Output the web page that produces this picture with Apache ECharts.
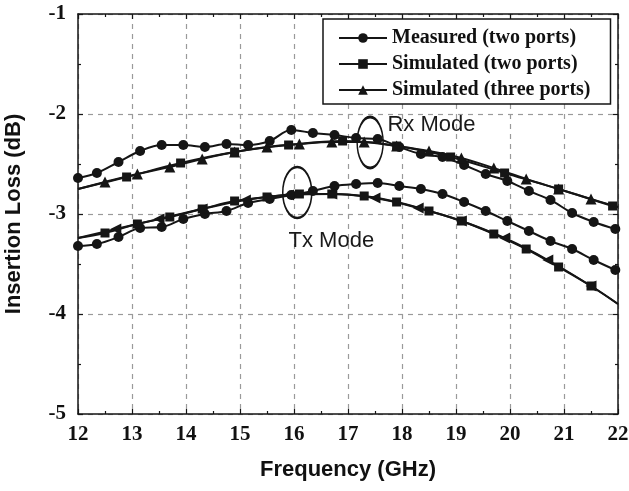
<!DOCTYPE html>
<html>
<head>
<meta charset="utf-8">
<script src="https://cdn.jsdelivr.net/npm/echarts@6/dist/echarts.min.js"></script>
<style>
    html, body { margin: 0; padding: 0; background: #fff; }
    #main { width: 629px; height: 491px; }
</style>
</head>
<body>
<div id="main"></div>
<script>
//图例名称
var legendNames = ['Measured (two ports)', 'Simulated (two ports)', 'Simulated (three ports)'];

//坐标轴刻度
var freqTicks = [12, 13, 14, 15, 16, 17, 18, 19, 20, 21, 22];
var lossTicks = [-5, -4, -3, -2, -1];

//实测 - 频点
var measFreq = [12.0, 12.35, 12.75, 13.15, 13.55, 13.95, 14.35, 14.75, 15.15, 15.55, 15.95, 16.35, 16.75,
    17.15, 17.55, 17.95, 18.35, 18.75, 19.15, 19.55, 19.95, 20.35, 20.75, 21.15, 21.55, 21.95];
//Rx 实测
var rxMeasLoss = [-2.64, -2.59, -2.48, -2.37, -2.31, -2.31, -2.33, -2.30, -2.31, -2.27, -2.16, -2.19, -2.21,
    -2.24, -2.25, -2.33, -2.40, -2.43, -2.51, -2.60, -2.67, -2.77, -2.86, -2.99, -3.08, -3.15];
//Tx 实测
var txMeasLoss = [-3.32, -3.30, -3.23, -3.14, -3.13, -3.05, -3.00, -2.97, -2.89, -2.85, -2.81, -2.77, -2.72,
    -2.70, -2.69, -2.72, -2.75, -2.80, -2.88, -2.97, -3.07, -3.17, -3.27, -3.35, -3.46, -3.56];

//Rx 仿真 (two ports)
var rxSim2Freq = [12, 12.9, 13.9, 14.9, 15.9, 16.9, 17.9, 18.9, 19.9, 20.9, 21.9, 22];
var rxSim2Loss = [-2.75, -2.63, -2.49, -2.38, -2.31, -2.27, -2.32, -2.43, -2.59, -2.75, -2.92, -2.93];
//Rx 仿真 (three ports)
var rxSim3Freq = [12, 12.5, 13.1, 13.7, 14.3, 14.9, 15.5, 16.1, 16.7, 17.3, 17.9, 18.5, 19.1, 19.7, 20.3, 20.9, 21.5, 22];
var rxSim3Loss = [-2.75, -2.68, -2.60, -2.53, -2.45, -2.38, -2.33, -2.30, -2.28, -2.28, -2.32, -2.37, -2.44, -2.54, -2.65, -2.75, -2.85, -2.93];

//Tx 仿真 (two ports)
var txSim2Freq = [12, 12.5, 13.1, 13.7, 14.3, 14.9, 15.5, 16.1, 16.7, 17.3, 17.9, 18.5, 19.1, 19.7, 20.3, 20.9, 21.5, 22];
var txSim2Loss = [-3.24, -3.19, -3.10, -3.03, -2.95, -2.87, -2.83, -2.80, -2.80, -2.82, -2.88, -2.97, -3.07, -3.20, -3.35, -3.53, -3.72, -3.90];
//Tx 仿真 (three ports)
var txSim3Freq = [12, 12.7, 13.5, 14.3, 15.1, 15.9, 16.7, 17.5, 18.3, 19.1, 19.9, 20.7, 21.5, 22];
var txSim3Loss = [-3.24, -3.15, -3.05, -2.95, -2.86, -2.81, -2.80, -2.84, -2.94, -3.07, -3.24, -3.46, -3.72, -3.90];

//标注 (椭圆 + 文字)
var rxMark = { ellipse: [17.41, -2.285], text: [17.72, -2.11], label: 'Rx Mode' };
var txMark = { ellipse: [16.06, -2.785], text: [15.89, -3.27], label: 'Tx Mode' };

var INK = '#151515';
var ellipsePath = 'path://M0,0A10,10,0,1,1,0,20A10,10,0,1,1,0,0Z';

//拼数据，bareEnds: 两端点不画标记
function build(freq, loss, bareEnds) {
    var out = [];
    for (var i = 0; i < freq.length; i++) {
        var item = { value: [freq[i], loss[i]] };
        if (bareEnds && (i === 0 || i === freq.length - 1)) item.symbol = 'none';
        out.push(item);
    }
    return out;
}

function lineSeries(name, data, symbol, size, rotate, smooth) {
    return {
        name: name,
        type: 'line',
        data: data,
        smooth: smooth,
        symbol: symbol,
        symbolSize: size,
        symbolRotate: rotate || 0,
        showAllSymbol: true,
        lineStyle: { color: INK, width: 2 },
        itemStyle: { color: INK, borderWidth: 0 },
        emphasis: { disabled: true },
        z: 3
    };
}

var serif = { fontFamily: 'Liberation Serif', fontWeight: 'bold', fontSize: 21, color: '#111' };
var nameFont = { fontFamily: 'Liberation Sans', fontWeight: 'bold', fontSize: 22, color: '#111' };
var axisLine = { show: true, lineStyle: { color: INK, width: 1.5 } };
var tick = { show: true, inside: true, length: 5, lineStyle: { color: INK, width: 1.2 } };
var minor = { show: true, splitNumber: 2, length: 3, lineStyle: { color: INK, width: 1.2 } };
var dashGrid = { show: true, lineStyle: { color: '#9a9a9a', width: 1.2, type: [5, 5] } };

var rxMeas = lineSeries(legendNames[0], build(measFreq, rxMeasLoss, false), 'circle', 10, 0, 0.35);
rxMeas.markPoint = {
    silent: true,
    animation: false,
    data: [
        { coord: rxMark.ellipse, symbol: ellipsePath, symbolSize: [26, 51],
          itemStyle: { color: 'transparent', borderColor: INK, borderWidth: 2 }, label: { show: false } },
        { coord: txMark.ellipse, symbol: ellipsePath, symbolSize: [29, 51],
          itemStyle: { color: 'transparent', borderColor: INK, borderWidth: 2 }, label: { show: false } },
        { coord: rxMark.text, symbol: 'circle', symbolSize: 1, itemStyle: { color: 'transparent' },
          label: { show: true, position: 'right', distance: 0, formatter: rxMark.label,
              fontFamily: 'Liberation Sans', fontSize: 22, color: '#1a1a1a' } },
        { coord: txMark.text, symbol: 'circle', symbolSize: 1, itemStyle: { color: 'transparent' },
          label: { show: true, position: 'right', distance: 0, formatter: txMark.label,
              fontFamily: 'Liberation Sans', fontSize: 22, color: '#1a1a1a' } }
    ]
};

var chart = echarts.init(document.getElementById('main'), null, { renderer: 'canvas' });
chart.setOption({
    animation: false,
    backgroundColor: '#fff',
    grid: { left: 78, right: 11, top: 14, bottom: 77, outerBoundsMode: 'none', containLabel: false },
    legend: {
        orient: 'vertical',
        left: 323,
        top: 19,
        padding: [9, 20, 4, 15],
        backgroundColor: '#fff',
        borderColor: INK,
        borderWidth: 1.5,
        itemWidth: 48,
        itemHeight: 12,
        itemGap: 6,
        selectedMode: false,
        textStyle: { fontFamily: 'Liberation Serif', fontWeight: 'bold', fontSize: 20, lineHeight: 18, color: '#111' },
        data: legendNames
    },
    xAxis: [{
        type: 'value', min: freqTicks[0], max: freqTicks[freqTicks.length - 1], interval: 1,
        name: 'Frequency (GHz)', nameLocation: 'middle', nameGap: 45, nameTextStyle: nameFont,
        axisLine: axisLine, axisTick: tick, minorTick: minor, splitLine: dashGrid,
        axisLabel: { margin: 10, textStyle: serif }
    }, {
        type: 'value', position: 'top', min: freqTicks[0], max: freqTicks[freqTicks.length - 1], interval: 1,
        axisLine: axisLine, axisTick: tick, minorTick: minor, splitLine: { show: false },
        axisLabel: { show: false }
    }],
    yAxis: [{
        type: 'value', min: lossTicks[0], max: lossTicks[lossTicks.length - 1], interval: 1,
        name: 'Insertion Loss (dB)', nameLocation: 'middle', nameGap: 53, nameTextStyle: nameFont,
        axisLine: axisLine, axisTick: tick, minorTick: minor, splitLine: dashGrid,
        axisLabel: { margin: 12, textStyle: serif }
    }, {
        type: 'value', position: 'right', min: lossTicks[0], max: lossTicks[lossTicks.length - 1], interval: 1,
        axisLine: axisLine, axisTick: tick, minorTick: minor, splitLine: { show: false },
        axisLabel: { show: false }
    }],
    series: [
        rxMeas,
        lineSeries(legendNames[1], build(rxSim2Freq, rxSim2Loss, true), 'rect', 9, 0, 0.4),
        lineSeries(legendNames[2], build(rxSim3Freq, rxSim3Loss, true), 'triangle', 11, 0, 0.4),
        lineSeries(legendNames[0], build(measFreq, txMeasLoss, false), 'circle', 10, 0, 0.35),
        lineSeries(legendNames[1], build(txSim2Freq, txSim2Loss, true), 'rect', 9, 0, 0.4),
        lineSeries(legendNames[2], build(txSim3Freq, txSim3Loss, true), 'triangle', 11, 90, 0.4)
    ]
});
</script>
</body>
</html>
